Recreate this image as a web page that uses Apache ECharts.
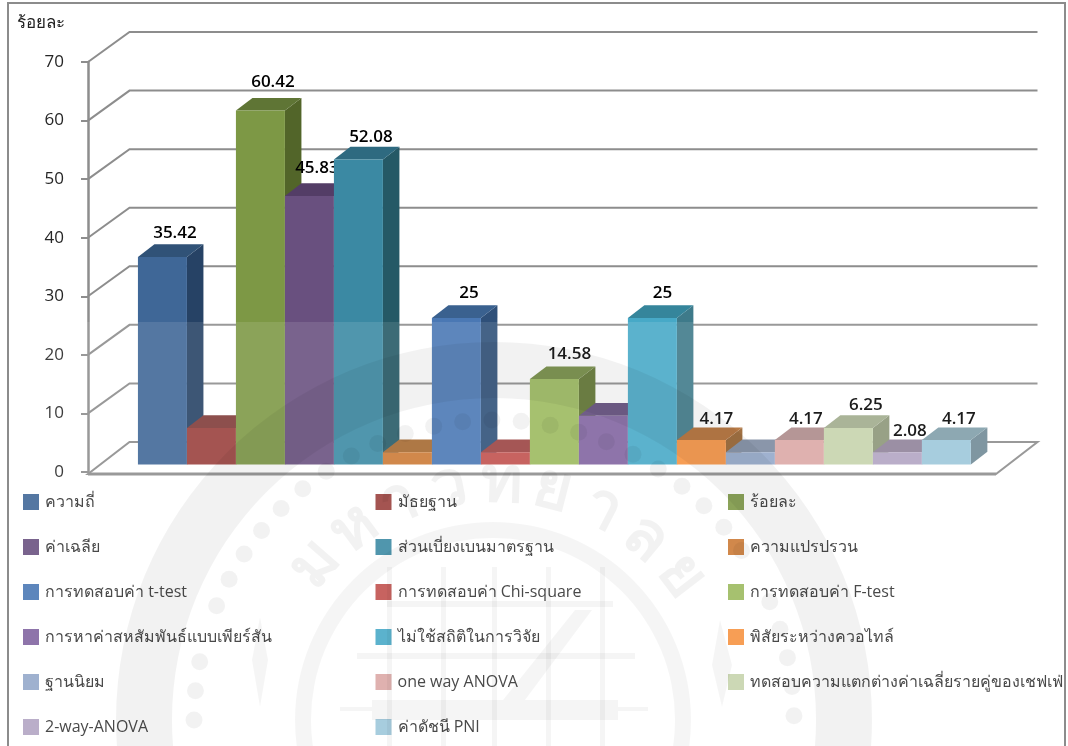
<!DOCTYPE html>
<html><head><meta charset="utf-8">
<style>html,body{margin:0;padding:0;background:#fff}#c{width:1068px;height:746px}</style>
<script src="https://cdn.jsdelivr.net/npm/echarts@6/dist/echarts.min.js"></script>
</head><body><div id="c"></div>
<script>
const categories = ['สถิติ'];
const seriesNames = ['ความถี่','มัธยฐาน','ร้อยละ','ค่าเฉลีย','ส่วนเบี่ยงเบนมาตรฐาน','ความแปรปรวน','การทดสอบค่า t-test','การทดสอบค่า Chi-square','การทดสอบค่า F-test','การหาค่าสหสัมพันธ์แบบเพียร์สัน','ไม่ใช้สถิติในการวิจัย','พิสัยระหว่างควอไทล์','ฐานนิยม','one way ANOVA','ทดสอบความแตกต่างค่าเฉลี่ยรายคู่ของเชฟเฟ่','2-way-ANOVA','ค่าดัชนี PNI'];
const values = [35.42,6.25,60.42,45.83,52.08,2.08,25,2.08,14.58,8.33,25,4.17,2.08,4.17,6.25,2.08,4.17];
const valueLabels = ['35.42','','60.42','45.83','52.08','','25','','14.58','','25','4.17','','4.17','6.25','2.08','4.17'];
const yTicks = [0,10,20,30,40,50,60,70];

const faceColors = ['#3f6797','#993f3c','#7d9845','#69507f','#3b89a3','#cc7a35','#4a78b4','#c0504d','#9cba5e','#8063a0','#47a9c7','#f79241','#94a8c9','#dba8a6','#c6d4ac','#b2a4c3','#9dc7da'];
const topColors  = ['#305277','#7f3a38','#5f7535','#533d66','#2e6a80','#a5682f','#3a618f','#9a4240','#718a40','#5f4a7a','#35859b','#b06a30','#7c8aa0','#ac8a8a','#a0ab8c','#8f8299','#7f9ea9'];
const sideColors = ['#264265','#6b2f2d','#526529','#46325a','#255966','#8f5a28','#2f5079','#7e3533','#5f7430','#4f3c66','#3e7a8a','#96602c','#6d7a92','#9a7c7c','#8c9678','#7f728a','#708a96'];
const labelNudgeX = {3:-5, 8:2.5, 10:-2.5, 11:2.5, 13:-6, 14:5};
const labelLift = {0:11, 2:16, 3:15, 4:10, 6:12, 8:12, 10:12, 11:8, 13:8, 14:10, 15:8, 16:8};

const FONT = '"Open Sans","Noto Sans",sans-serif';
const WALL = '#8d8d8d';
const WALL_DX = 41.5, WALL_DY = -30, BAR_DX = 10.4+2, BAR_DY = -7.5, DEPTH_DX = 16.5, DEPTH_DY = -12.7;

const wallSeries = {
  type:'custom', name:'wall', silent:true, z:1, clip:false,
  data: yTicks.map(t=>[0,t]), encode:{x:0,y:1},
  renderItem(params, api){
    const cs = params.coordSys, t = api.value(1), y = api.coord([0,t])[1];
    const l = cs.x, r = cs.x+cs.width;
    const lineStyle = {stroke:WALL, lineWidth:2, fill:null};
    if (t===0){
      return {type:'group',children:[
        {type:'polygon',shape:{points:[[l,y+2],[r,y+2],[r+WALL_DX,y+WALL_DY],[l+WALL_DX,y+WALL_DY]]},style:{fill:'#fff',stroke:WALL,lineWidth:2}},
        {type:'line',shape:{x1:l,y1:y+2,x2:r,y2:y+2},style:{stroke:WALL,lineWidth:3}}
      ]};
    }
    return {type:'polyline',shape:{points:[[l,y],[l+WALL_DX,y+WALL_DY],[r+WALL_DX,y+WALL_DY]]},style:lineStyle};
  }
};

const barSeries = seriesNames.map((name,i)=>({
  type:'custom', name, z:2+i, clip:false, silent:true,
  itemStyle:{color:faceColors[i]},
  data:[[0,values[i]]], encode:{x:0,y:1},
  renderItem(params, api){
    const v = api.value(1), top = api.coord([0,v]), base = api.coord([0,0]);
    const w = api.size([1,0])[0]*0.05396;
    const x0 = top[0]+BAR_DX+(i-8.5)*w, x1 = x0+w;
    const yT = top[1]+BAR_DY, yB = base[1]+BAR_DY;
    const c = [
      {type:'polygon',shape:{points:[[x1,yT],[x1+DEPTH_DX,yT+DEPTH_DY],[x1+DEPTH_DX,yB+DEPTH_DY],[x1,yB]]},style:{fill:sideColors[i]}},
      {type:'polygon',shape:{points:[[x0,yT],[x0+DEPTH_DX,yT+DEPTH_DY],[x1+DEPTH_DX,yT+DEPTH_DY],[x1,yT]]},style:{fill:topColors[i]}},
      {type:'rect',shape:{x:x0,y:yT,width:w,height:yB-yT},style:{fill:faceColors[i]}}
    ];
    if (valueLabels[i]) c.push({type:'text',z2:100,style:{text:valueLabels[i],x:(x0+x1)/2+12.5+(labelNudgeX[i]||0),y:yT+DEPTH_DY-(labelLift[i]||12),align:'center',verticalAlign:'middle',fill:'#000',font:'600 17px '+FONT}});
    return {type:'group',children:c};
  }
}));

/* legend: three columns, six rows */
const legendCols = [0,1,2].map(c=>({
  show:true, orient:'vertical', left:[23,375.5,728][c], top:494, padding:0,
  itemWidth:16, itemHeight:16, itemGap:29, icon:'rect',
  selectedMode:false,
  textStyle:{fontFamily:FONT,fontSize:16,color:'#333',lineHeight:16,padding:[-10,0,0,1]},
  data:seriesNames.filter((_,i)=>i%3===c)
}));

/* faint seal watermark laid over the picture */
const SX=494, SY=720, SEAL='rgba(0,0,0,0.05)', Z=60;
const seal = [
  {type:'rect',z:Z,silent:true,shape:{x:10,y:322,width:1054,height:424},style:{fill:'rgba(255,255,255,0.11)'}},
  {type:'ring',z:Z,silent:true,shape:{cx:SX,cy:SY,r:378,r0:322},style:{fill:SEAL}},
  {type:'ring',z:Z,silent:true,shape:{cx:SX-1,cy:SY,r:198,r0:182},style:{fill:'rgba(0,0,0,0.04)'}}
];
for (let a=-90; a<=90; a+=5.6){
  if ((a>-76&&a<-69)||(a>56&&a<63)) continue;
  const r=a*Math.PI/180;
  seal.push({type:'circle',z:Z,silent:true,shape:{cx:SX+300*Math.sin(r),cy:SY-300*Math.cos(r),r:8.5},style:{fill:SEAL}});
}
const LIGHT='rgba(0,0,0,0.04)';
[[387,567,5,179],[441,567,5,179],[492,567,5,179],[546,567,5,179],[600,567,5,179],[387,601,226,6],[357,653,278,6],[372,700,246,20],[340,707,32,4],[618,707,30,4]].forEach(b=>{
  seal.push({type:'rect',z:Z,silent:true,shape:{x:b[0],y:b[1],width:b[2],height:b[3]},style:{fill:LIGHT}});
});
[[[575,610],[592,610],[525,700],[503,700]],[[260,617],[268,660],[260,707],[252,660]],[[720,620],[732,665],[722,707],[712,665]]].forEach(p=>{
  seal.push({type:'polygon',z:Z,silent:true,shape:{points:p},style:{fill:LIGHT}});
});
const sealText = ['ม','ห','า','ว','ท','ย','า','ล','ย'];
sealText.forEach((ch,k)=>{
  const deg=-49+k*12.7, r=deg*Math.PI/180, R=237;
  seal.push({type:'text',z:Z,silent:true,x:SX+R*Math.sin(r),y:SY-R*Math.cos(r),rotation:-r,
    style:{text:ch,align:'center',verticalAlign:'middle',fill:'rgba(0,0,0,0.05)',font:'bold 64px "Noto Sans",sans-serif'}});
});
const frame = {type:'rect',z:70,silent:true,shape:{x:8,y:3,width:1057,height:760},style:{fill:null,stroke:'#8c8c8c',lineWidth:2}};

const chart = echarts.init(document.getElementById('c'),null,{renderer:'canvas'});
chart.setOption({
  animation:false, backgroundColor:'#fff',
  title:{text:'ร้อยละ',left:17,top:15,padding:0,textStyle:{fontFamily:FONT,fontSize:17,fontWeight:'normal',color:'#222'}},
  tooltip:{show:false},
  legend:legendCols,
  grid:{left:88,top:62,width:908,height:410,containLabel:false},
  xAxis:{type:'category',data:categories,show:false},
  yAxis:{type:'value',min:0,max:70,interval:10,
    axisLine:{show:true,lineStyle:{color:WALL,width:2.5}},
    axisTick:{show:true,length:7,lineStyle:{color:WALL,width:2}},
    axisLabel:{fontFamily:FONT,fontSize:17,color:'#262626',margin:24},
    splitLine:{show:false}},
  graphic:{elements:seal.concat([frame])},
  series:[wallSeries].concat(barSeries)
});
</script></body></html>
